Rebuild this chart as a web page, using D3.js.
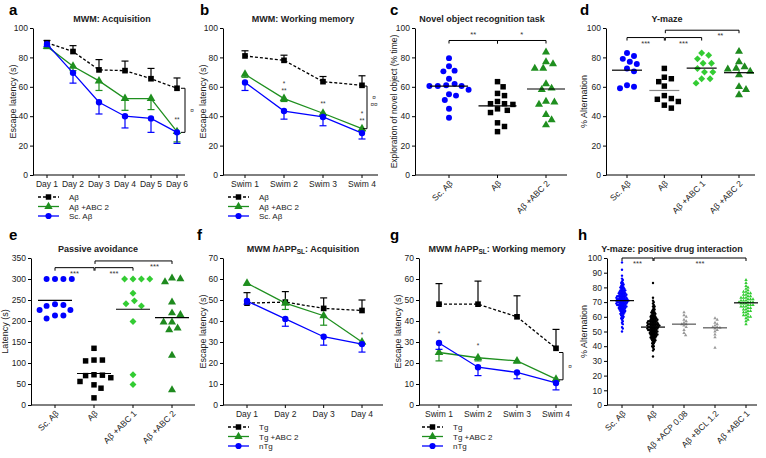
<!DOCTYPE html>
<html><head><meta charset="utf-8">
<script src="https://cdn.jsdelivr.net/npm/d3@7"></script>
<style>body{margin:0;background:#fff} text{font-family:'Liberation Sans',Arial,sans-serif}</style>
</head><body><svg id="fig" width="766" height="458"></svg>
<script>
// ---- data ----
const days6 = ["Day 1", "Day 2", "Day 3", "Day 4", "Day 5", "Day 6"];
const days4 = ["Day 1", "Day 2", "Day 3", "Day 4"];
const swims = ["Swim 1", "Swim 2", "Swim 3", "Swim 4"];

// a: MWM acquisition
const acqAbeta = [90, 84, 71.5, 71, 65.5, 59];
const acqAbetaErr = [1.5, 4, 7, 6.5, 7, 7];
const acqAbc2 = [87.5, 74, 64, 52, 52, 29.5];
const acqAbc2Err = [1.5, 3, 6.5, 8, 7.5, 7];
const acqSc = [89, 69.5, 49.5, 40, 38.5, 29];
const acqScErr = [1.5, 7, 8, 8, 9.5, 7.5];

// b: MWM working memory
const wmAbeta = [81, 78, 63.5, 61];
const wmAbetaErr = [3.5, 3.5, 3.5, 6.5];
const wmAbc2 = [68.5, 52, 42, 31.5];
const wmAbc2Err = [2, 2, 1.5, 1.5];
const wmSc = [63, 43.5, 39.5, 28.5];
const wmScErr = [5.5, 5.5, 6, 4];

// c: novel object recognition
const norCats = ["Sc. Aβ", "Aβ", "Aβ +ABC 2"];
const norSc = [79.5, 74, 71, 70.5, 65.5, 62, 61, 60.5, 60.5, 60.5, 58, 55, 54, 51, 45, 39];
const norAbeta = [63.5, 60, 55.5, 54, 50, 48.5, 48.5, 48, 45, 44, 42.5, 35.5, 33, 29.5];
const norAbc2 = [83.5, 77, 75.5, 72.5, 72.5, 62, 59, 58, 50, 49.5, 48, 41, 37.5, 34];
const norMid = [60.5, 47, 58.5];

// d: Y-maze
const ymCats = ["Sc. Aβ", "Aβ", "Aβ +ABC 1", "Aβ +ABC 2"];
const ymSc = [83, 81, 79, 77, 75.5, 72.5, 70.5, 61, 60, 59];
const ymAbeta = [72.5, 66.5, 65.5, 63.5, 60.5, 54, 52, 51.5, 50, 47.5, 45.5];
const ymAbc1 = [83, 81.5, 79, 76, 76, 72.5, 70, 70, 65.5, 65.5, 62.5];
const ymAbc2 = [84, 77, 73.5, 72.5, 72, 70.5, 68, 60, 58, 54.5];
const ymMid = [71.3, 57.5, 72.7, 69.6];

// e: passive avoidance
const paSc = [300, 300, 300, 300, 240, 238, 236, 226, 226, 213, 213, 206];
const paAbeta = [135, 107, 107, 105, 72, 71, 70, 65, 56, 48, 40, 17];
const paAbc1 = [300, 300, 300, 300, 266, 248, 241, 236, 199, 72, 49];
const paAbc2 = [302, 300, 293, 245, 219, 215, 197, 197, 183, 179, 118, 36];
const paMid = [249, 75, 228, 208];

// f: hAPPSL acquisition
const tgAcq = [48.5, 49, 46, 45];
const tgAcqErr = [5, 5, 5, 5];
const tgAbcAcq = [58, 48.5, 42.5, 30];
const tgAbcAcqErr = [1, 3, 4.5, 1];
const ntgAcq = [49.5, 41, 32.5, 29];
const ntgAcqErr = [1.5, 3.5, 4, 3.8];

// g: hAPPSL working memory
const tgWm = [48, 48, 42, 27];
const tgWmErr = [9.8, 11, 10, 9];
const tgAbcWm = [25, 22.5, 21, 12.3];
const tgAbcWmErr = [4, 1.5, 1, 0.8];
const ntgWm = [29.5, 18, 15.5, 10.5];
const ntgWmErr = [3, 4, 3, 3.3];

// h: Y-maze drug interaction
const hCats = ["Sc. Aβ", "Aβ", "Aβ +ACP 0.08", "Aβ +BCL 1.2", "Aβ +ABC 1"];
const hSc = [97, 92, 88, 86, 85, 84, 83, 83, 82, 82, 81, 81, 80, 80, 80, 79, 79, 79, 78, 78, 78, 78, 77, 77, 77, 77,
  76, 76, 76, 76, 76, 75, 75, 75, 75, 75, 74, 74, 74, 74, 74, 74, 73, 73, 73, 73, 73, 73, 72, 72, 72, 72, 72, 72, 72,
  71, 71, 71, 71, 71, 71, 71, 70, 70, 70, 70, 70, 70, 70, 69, 69, 69, 69, 69, 69, 68, 68, 68, 68, 68, 68, 67, 67, 67,
  67, 67, 66, 66, 66, 66, 66, 65, 65, 65, 65, 64, 64, 64, 64, 63, 63, 63, 62, 62, 62, 61, 61, 60, 60, 59, 59, 58, 57,
  56, 55, 53, 52, 50];
const hAbeta = [83, 73, 71, 70, 69, 68, 67, 67, 66, 65, 65, 64, 64, 63, 63, 63, 62, 62, 62, 61, 61, 61, 60, 60, 60, 60,
  59, 59, 59, 59, 58, 58, 58, 58, 58, 57, 57, 57, 57, 57, 57, 56, 56, 56, 56, 56, 56, 55, 55, 55, 55, 55, 55, 55, 54,
  54, 54, 54, 54, 54, 54, 53, 53, 53, 53, 53, 53, 53, 52, 52, 52, 52, 52, 52, 51, 51, 51, 51, 51, 51, 50, 50, 50, 50,
  50, 49, 49, 49, 49, 49, 48, 48, 48, 48, 48, 47, 47, 47, 47, 46, 46, 46, 46, 45, 45, 45, 44, 44, 44, 43, 43, 42, 42,
  41, 40, 40, 39, 38, 37, 33];
const hAcp = [63, 61, 60, 58, 57, 56, 55, 55, 54, 53, 51, 49, 47.5];
const hBcl = [59, 58, 56, 55, 54, 53, 53, 52.5, 52, 51, 50, 48, 46, 39];
const hAbc1 = [85, 83, 81, 80, 79, 78, 77, 77, 76, 76, 75, 75, 74, 74, 73, 73, 73, 72, 72, 72, 71, 71, 71, 70, 70, 70,
  70, 69, 69, 69, 68, 68, 68, 67, 67, 67, 66, 66, 65, 65, 64, 64, 63, 63, 62, 61, 61, 60, 60, 59, 58, 57, 55];
const hMid = [71, 53, 55, 52.5, 69.5];

// ---- drawing ----
const svg = d3.select("#fig");
const BLUE = "#0000ff", GREEN = "#1f8f1f", LGREEN = "#33cc33", DGREEN = "#1e8a1e", GRAY = "#999";

function panel(p) {
  const g = svg.append("g");
  const y = d3.scaleLinear().domain([0, p.max]).range([p.bottom, p.top]);
  const x = d3.scalePoint().domain(p.cats).range(p.xr);
  const ya = g.append("g").attr("transform", `translate(${p.left},0)`)
    .call(d3.axisLeft(y).tickValues(d3.range(0, p.max + 1, p.step)).tickSize(3).tickSizeOuter(0).tickPadding(2));
  ya.selectAll("text").attr("font-size", 8.5).attr("fill", "#222");
  ya.selectAll("line,path").attr("stroke", "#000");
  g.append("line").attr("x1", p.left).attr("x2", p.right).attr("y1", p.bottom).attr("y2", p.bottom).attr("stroke", "#000");
  p.cats.forEach(c => {
    g.append("line").attr("x1", x(c)).attr("x2", x(c)).attr("y1", p.bottom).attr("y2", p.bottom + 3).attr("stroke", "#000");
    if (p.rotate) {
      g.append("text").attr("transform", `translate(${x(c) + 2},${p.bottom + 7}) rotate(-45)`)
        .attr("text-anchor", "end").attr("dy", "0.35em").attr("font-size", 8.5).attr("fill", "#222").text(c);
    } else {
      g.append("text").attr("x", x(c)).attr("y", p.bottom + 12).attr("text-anchor", "middle")
        .attr("font-size", 8.5).attr("fill", "#222").text(c);
    }
  });
  const t = g.append("text").attr("x", p.tx).attr("y", p.ty).attr("text-anchor", "middle")
    .attr("font-size", 9).attr("font-weight", "bold").attr("fill", "#222");
  p.title.forEach(s => t.append("tspan").attr("font-style", s.i ? "italic" : null)
    .attr("font-size", s.sub ? 6.5 : null).attr("dy", s.sub ? 2 : (s.up ? -2 : null)).text(s.t));
  g.append("text").attr("x", p.lx).attr("y", p.ly).attr("font-size", 15).attr("font-weight", "bold").text(p.letter);
  g.append("text").attr("transform", `translate(${p.yx},${(p.top + p.bottom) / 2}) rotate(-90)`)
    .attr("text-anchor", "middle").attr("font-size", p.ylSize || 9).attr("fill", "#222").text(p.ylabel);
  return { g, x, y, p };
}

function symbolPath(shape, size) {
  const types = { square: d3.symbolSquare, circle: d3.symbolCircle, triangle: d3.symbolTriangle, diamond: d3.symbolSquare };
  return d3.symbol().type(types[shape]).size(size)();
}

function marker(g, shape, x, y, size, color) {
  g.append("path").attr("d", symbolPath(shape, size)).attr("fill", color)
    .attr("transform", `translate(${x},${y})` + (shape === "diamond" ? " rotate(45)" : ""));
}

function series(P, vals, errs, dir, color, shape, dashed) {
  const pts = P.x.domain().map((c, i) => [P.x(c), P.y(vals[i]), P.y(vals[i] + dir * errs[i])]);
  pts.forEach(([px, py, pe]) => {
    P.g.append("line").attr("x1", px).attr("x2", px).attr("y1", py).attr("y2", pe).attr("stroke", color).attr("stroke-width", 1.2);
    P.g.append("line").attr("x1", px - 3.5).attr("x2", px + 3.5).attr("y1", pe).attr("y2", pe).attr("stroke", color).attr("stroke-width", 1.2);
  });
  P.g.append("path").attr("d", d3.line()(pts.map(d => [d[0], d[1]]))).attr("fill", "none")
    .attr("stroke", color).attr("stroke-width", 1.3).attr("stroke-dasharray", dashed ? "3,2" : null);
  pts.forEach(([px, py]) => marker(P.g, shape, px, py, 32, color));
}

function legend(x, y0, items) {
  const g = svg.append("g");
  items.forEach((it, i) => {
    const yy = y0 + i * 9.5;
    g.append("line").attr("x1", x).attr("x2", x + 21).attr("y1", yy).attr("y2", yy).attr("stroke", it.color)
      .attr("stroke-width", 1.3).attr("stroke-dasharray", it.dashed ? "3,2" : null);
    marker(g, it.shape, x + 10.5, yy, 30, it.color);
    g.append("text").attr("x", x + 31).attr("y", yy + 3).attr("font-size", 8).attr("fill", "#222").text(it.label);
  });
}

// significance marks; stacked marks go one under the other
function note(P, x, v, lines) {
  lines.forEach((s, i) => P.g.append("text").attr("x", x).attr("y", P.y(v) + i * 6.5).attr("text-anchor", "middle")
    .attr("font-size", 6.5).attr("fill", "#333").text(s));
}

function sideBracket(P, x, v1, v2, syms, symV) {
  const y1 = P.y(v1), y2 = P.y(v2);
  P.g.append("path").attr("d", `M${x - 4},${y1}H${x}V${y2}H${x - 4}`).attr("fill", "none").attr("stroke", "#000");
  syms.forEach((s, i) => P.g.append("text").attr("x", x + 7).attr("y", P.y(symV) + i * 6.5).attr("text-anchor", "middle")
    .attr("font-size", 6.5).attr("fill", "#333").text(s));
}

function topBracket(P, c1, c2, v, txt, below, tx) {
  const x1 = P.x(c1) + (c1 === "Aβ" && below ? 1 : 0), x2 = P.x(c2), y = P.y(v);
  P.g.append("path").attr("d", `M${x1},${y + 3}V${y}H${x2}V${y + 3}`).attr("fill", "none").attr("stroke", "#000");
  P.g.append("text").attr("x", tx !== undefined ? tx : (x1 + x2) / 2).attr("y", below ? y + 8 : y - 3)
    .attr("text-anchor", "middle").attr("font-size", 7.5).attr("fill", "#333").text(txt);
}

function swarm(P, cat, vals, r, gap, shape, size, color) {
  const cx = P.x(cat), placed = [];
  const step = r * 0.5, minD = 2 * r + gap;
  vals.map(v => P.y(v)).sort((a, b) => a - b).forEach(py => {
    for (let k = 0; k < 400; k++) {
      const off = (k % 2 ? 1 : -1) * Math.ceil(k / 2) * step;
      const hit = placed.some(q => (q[0] - off) ** 2 + (q[1] - py) ** 2 < minD * minD);
      if (!hit) { placed.push([off, py]); break; }
    }
  });
  placed.forEach(([off, py]) => marker(P.g, shape, cx + off, py, size, color));
}

function midLine(P, cat, v, half, color) {
  P.g.append("line").attr("x1", P.x(cat) - half).attr("x2", P.x(cat) + half).attr("y1", P.y(v)).attr("y2", P.y(v))
    .attr("stroke", color || "#000").attr("stroke-width", 1.2);
}

// a
const A = panel({ left: 33, right: 185, top: 28, bottom: 175, xr: [47, 177], cats: days6, max: 100, step: 20,
  title: [{ t: "MWM: Acquisition" }], tx: 112, ty: 22, letter: "a", lx: 9, ly: 15, ylabel: "Escape latency (s)", yx: 16 });
series(A, acqAbeta, acqAbetaErr, 1, "#000", "square", true);
series(A, acqAbc2, acqAbc2Err, -1, GREEN, "triangle", false);
series(A, acqSc, acqScErr, -1, BLUE, "circle", false);
note(A, A.x("Day 6"), 36, ["**"]);
sideBracket(A, 185, 59, 29, ["¤"], 42);
legend(38, 197, [{ label: "Aβ", color: "#000", shape: "square", dashed: true },
  { label: "Aβ +ABC 2", color: GREEN, shape: "triangle" }, { label: "Sc. Aβ", color: BLUE, shape: "circle" }]);

// b
const B = panel({ left: 223, right: 378, top: 28, bottom: 175, xr: [245, 362], cats: swims, max: 100, step: 20,
  title: [{ t: "MWM: Working memory" }], tx: 303, ty: 22, letter: "b", lx: 200, ly: 15, ylabel: "Escape latency (s)", yx: 206 });
series(B, wmAbeta, wmAbetaErr, 1, "#000", "square", true);
series(B, wmAbc2, wmAbc2Err, -1, GREEN, "triangle", false);
series(B, wmSc, wmScErr, -1, BLUE, "circle", false);
note(B, B.x("Swim 2"), 60.5, ["*", "**"]);
note(B, B.x("Swim 3"), 47, ["**"]);
note(B, B.x("Swim 4"), 40, ["*", "**"]);
sideBracket(B, 367, 60.5, 31.5, ["¤", "¤¤"], 51);
legend(228, 197, [{ label: "Aβ", color: "#000", shape: "square", dashed: true },
  { label: "Aβ +ABC 2", color: GREEN, shape: "triangle" }, { label: "Sc. Aβ", color: BLUE, shape: "circle" }]);

// c
const C = panel({ left: 415, right: 567, top: 28, bottom: 175, xr: [449, 546], cats: norCats, max: 100, step: 20, rotate: true,
  title: [{ t: "Novel object recognition task" }], tx: 482, ty: 22, letter: "c", lx: 390, ly: 15,
  ylabel: "Exploration of novel object (% time)", yx: 397, ylSize: 8.5 });
swarm(C, "Sc. Aβ", norSc, 2.8, 1.5, "circle", 28, BLUE);
swarm(C, "Aβ", norAbeta, 2.8, 1.5, "square", 30, "#000");
swarm(C, "Aβ +ABC 2", norAbc2, 2.8, 1.5, "triangle", 28, GREEN);
midLine(C, "Sc. Aβ", norMid[0], 19); midLine(C, "Aβ", norMid[1], 19); midLine(C, "Aβ +ABC 2", norMid[2], 19);
topBracket(C, "Sc. Aβ", "Aβ", 91.5, "**"); topBracket(C, "Aβ", "Aβ +ABC 2", 91.5, "*");

// d
const D = panel({ left: 606, right: 755, top: 28, bottom: 175, xr: [627, 739], cats: ymCats, max: 100, step: 20, rotate: true,
  title: [{ t: "Y-maze" }], tx: 667, ty: 22, letter: "d", lx: 580, ly: 15, ylabel: "% Alternation", yx: 587 });
swarm(D, "Sc. Aβ", ymSc, 2.8, 1.5, "circle", 28, BLUE);
swarm(D, "Aβ", ymAbeta, 2.8, 1.5, "square", 30, "#000");
swarm(D, "Aβ +ABC 1", ymAbc1, 2.8, 1.5, "diamond", 24, LGREEN);
swarm(D, "Aβ +ABC 2", ymAbc2, 2.8, 1.5, "triangle", 28, DGREEN);
midLine(D, "Sc. Aβ", ymMid[0], 15); midLine(D, "Aβ", ymMid[1], 15, "#888");
midLine(D, "Aβ +ABC 1", ymMid[2], 15); midLine(D, "Aβ +ABC 2", ymMid[3], 15);
topBracket(D, "Sc. Aβ", "Aβ", 93.5, "***", true); topBracket(D, "Aβ", "Aβ +ABC 1", 93.5, "***", true);
topBracket(D, "Aβ", "Aβ +ABC 2", 98.5, "**", true, (D.x("Aβ +ABC 1") + D.x("Aβ +ABC 2")) / 2);

// e
const E = panel({ left: 31, right: 195, top: 258, bottom: 405, xr: [55, 172], cats: ymCats, max: 350, step: 50, rotate: true,
  title: [{ t: "Passive avoidance" }], tx: 98, ty: 252, letter: "e", lx: 9, ly: 240, ylabel: "Latency (s)", yx: 8 });
swarm(E, "Sc. Aβ", paSc, 2.8, 2, "circle", 28, BLUE);
swarm(E, "Aβ", paAbeta, 2.8, 2, "square", 30, "#000");
swarm(E, "Aβ +ABC 1", paAbc1, 2.8, 2, "diamond", 24, LGREEN);
swarm(E, "Aβ +ABC 2", paAbc2, 2.8, 2, "triangle", 28, DGREEN);
midLine(E, "Sc. Aβ", paMid[0], 17); midLine(E, "Aβ", paMid[1], 17);
midLine(E, "Aβ +ABC 1", paMid[2], 17); midLine(E, "Aβ +ABC 2", paMid[3], 17);
topBracket(E, "Sc. Aβ", "Aβ", 327, "***", true); topBracket(E, "Aβ", "Aβ +ABC 1", 327, "***", true);
topBracket(E, "Aβ", "Aβ +ABC 2", 343, "***", true, (E.x("Aβ +ABC 1") + E.x("Aβ +ABC 2")) / 2 + 2);

// f
const F = panel({ left: 223, right: 383, top: 258, bottom: 405, xr: [247, 362], cats: days4, max: 70, step: 10,
  title: [{ t: "MWM " }, { t: "h", i: true }, { t: "APP" }, { t: "SL", sub: true }, { t: ": Acquisition", up: true }],
  tx: 303, ty: 252, letter: "f", lx: 197, ly: 240, ylabel: "Escape latency (s)", yx: 206 });
series(F, tgAcq, tgAcqErr, 1, "#000", "square", true);
series(F, tgAbcAcq, tgAbcAcqErr, -1, GREEN, "triangle", false);
series(F, ntgAcq, ntgAcqErr, -1, BLUE, "circle", false);
note(F, F.x("Day 4"), 32.5, ["*"]);
legend(228, 427, [{ label: "Tg", color: "#000", shape: "square", dashed: true },
  { label: "Tg +ABC 2", color: GREEN, shape: "triangle" }, { label: "nTg", color: BLUE, shape: "circle" }]);

// g
const G = panel({ left: 419, right: 572, top: 258, bottom: 405, xr: [439, 556], cats: swims, max: 70, step: 10,
  title: [{ t: "MWM " }, { t: "h", i: true }, { t: "APP" }, { t: "SL", sub: true }, { t: ": Working memory", up: true }],
  tx: 497, ty: 252, letter: "g", lx: 390, ly: 240, ylabel: "Escape latency (s)", yx: 401 });
series(G, tgWm, tgWmErr, 1, "#000", "square", true);
series(G, tgAbcWm, tgAbcWmErr, -1, GREEN, "triangle", false);
series(G, ntgWm, ntgWmErr, -1, BLUE, "circle", false);
note(G, G.x("Swim 1"), 33, ["*"]); note(G, G.x("Swim 2"), 27, ["*"]);
sideBracket(G, 563, 25, 12, ["¤"], 17);
legend(422, 427, [{ label: "Tg", color: "#000", shape: "square", dashed: true },
  { label: "Tg +ABC 2", color: GREEN, shape: "triangle" }, { label: "nTg", color: BLUE, shape: "circle" }]);

// h
const Hp = panel({ left: 607, right: 757, top: 258, bottom: 405, xr: [622, 746], cats: hCats, max: 100, step: 10, rotate: true,
  title: [{ t: "Y-maze: positive drug interaction" }], tx: 672, ty: 252, letter: "h", lx: 578, ly: 240,
  ylabel: "% Alternation", yx: 587 });
swarm(Hp, "Sc. Aβ", hSc, 0.8, 0, "circle", 4.5, BLUE);
swarm(Hp, "Aβ", hAbeta, 0.8, 0, "circle", 4.5, "#000");
swarm(Hp, "Aβ +ACP 0.08", hAcp, 1.1, 0.3, "triangle", 5, GRAY);
swarm(Hp, "Aβ +BCL 1.2", hBcl, 1.1, 0.3, "triangle", 5, GRAY);
swarm(Hp, "Aβ +ABC 1", hAbc1, 1.0, 0.2, "triangle", 5, LGREEN);
hMid.forEach((v, i) => midLine(Hp, hCats[i], v, 12, i === 0 || i === 1 || i === 4 ? "#000" : "#555"));
topBracket(Hp, "Sc. Aβ", "Aβ", 100, "***", true);
topBracket(Hp, "Aβ", "Aβ +ABC 1", 100, "***", true);
</script></body></html>
